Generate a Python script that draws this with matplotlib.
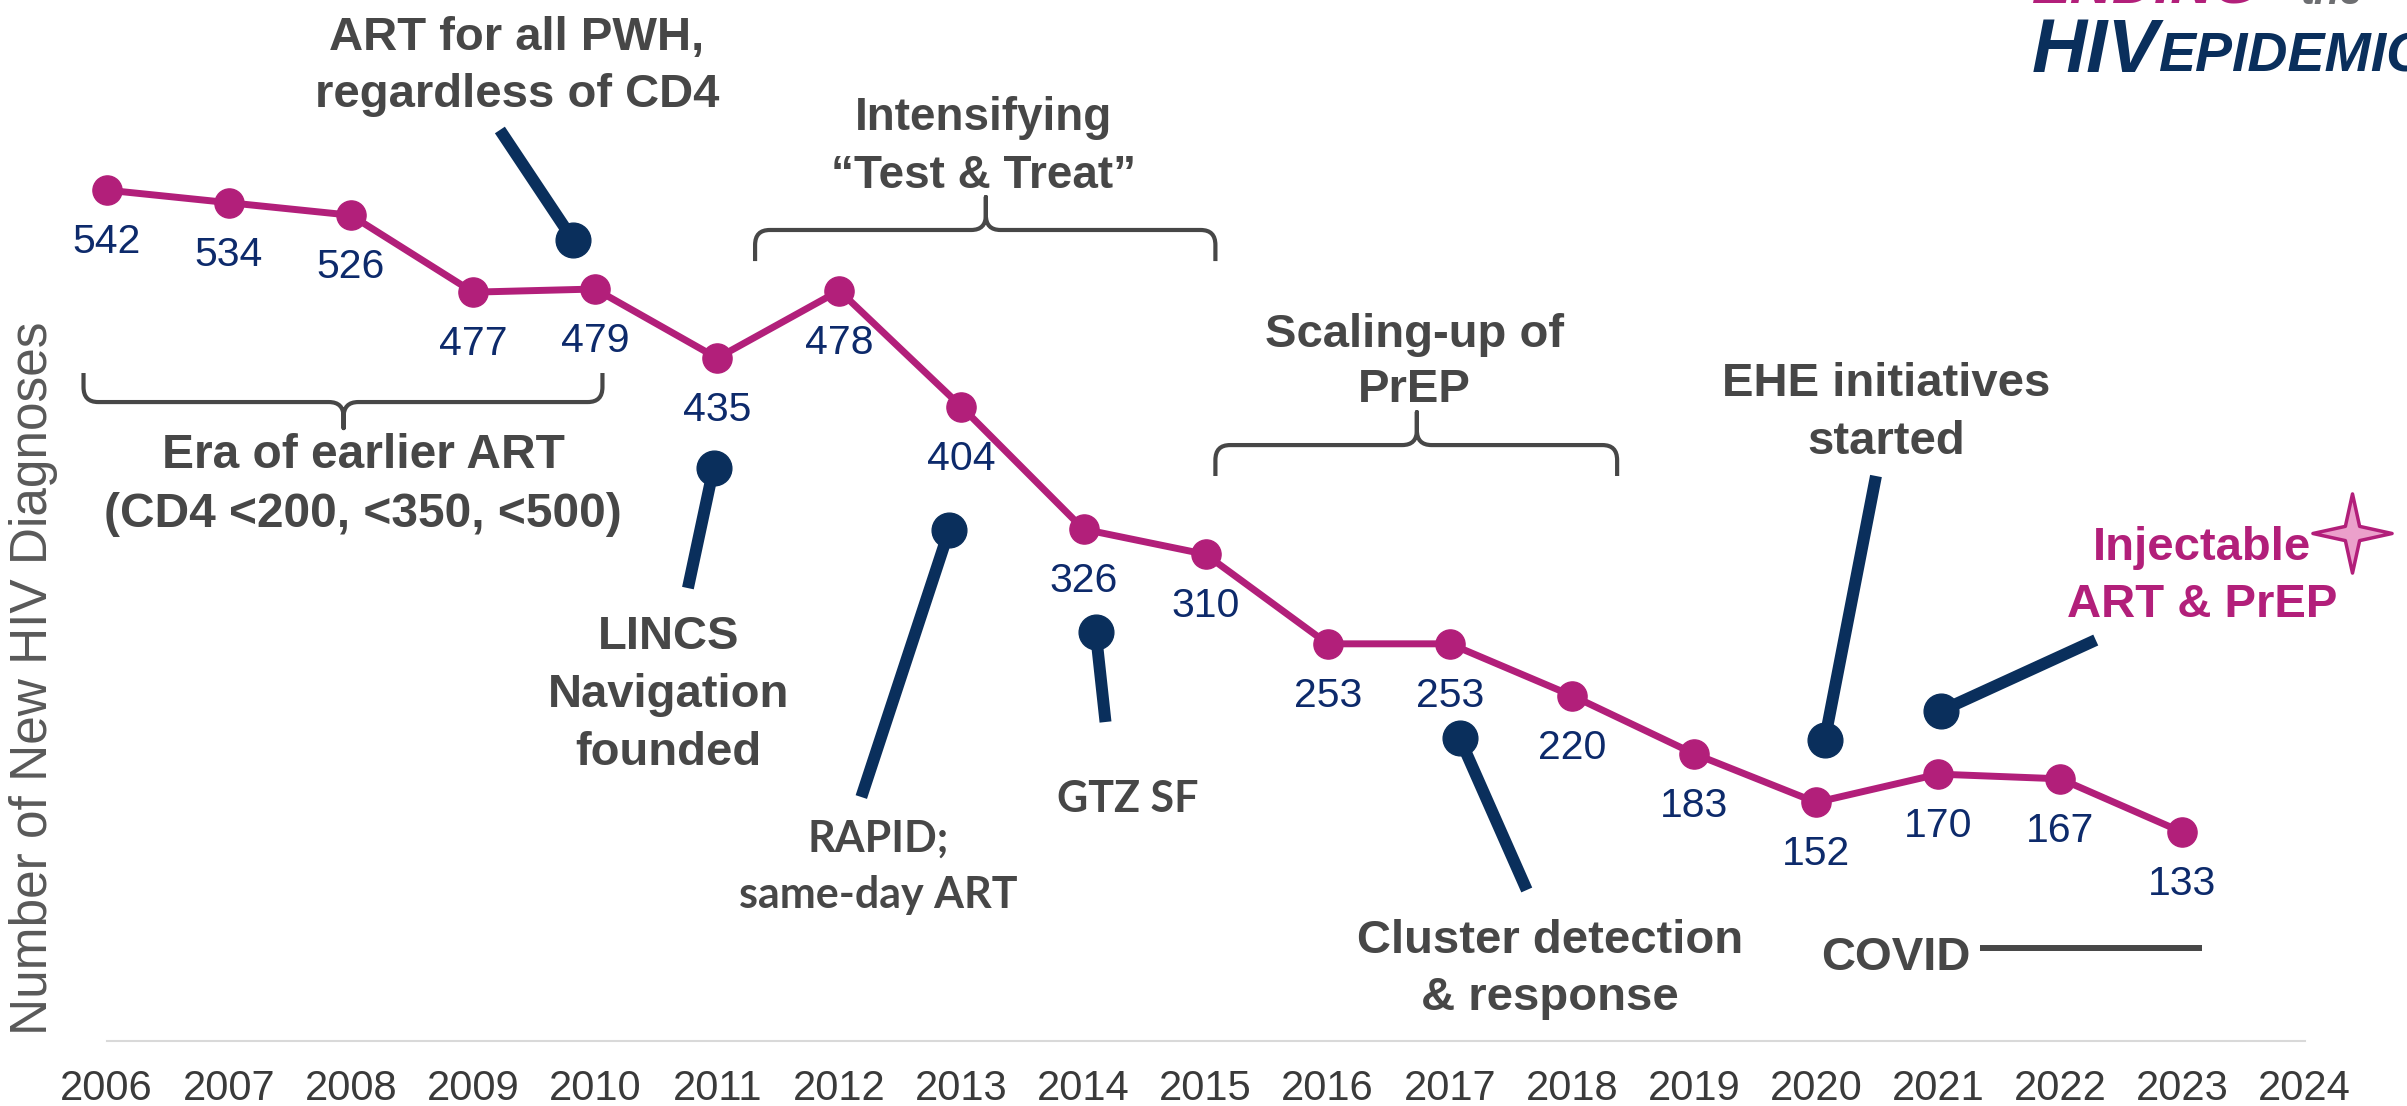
import matplotlib
matplotlib.use("Agg")
import matplotlib.pyplot as plt
from matplotlib.path import Path
from matplotlib.patches import PathPatch
from matplotlib import font_manager as fm

# ---------------- data ----------------
years = list(range(2006, 2024))
diagnoses = [542, 534, 526, 477, 479, 435, 478, 404, 326, 310,
             253, 253, 220, 183, 152, 170, 167, 133]
tick_years = list(range(2006, 2025))
y_label = "Number of New HIV Diagnoses"

# callout texts: lines, x centre, baselines (data units)
callout_lines = [
    (["ART for all PWH,", "regardless of CD4"], 2009.36, [631.0, 595.0]),
    (["LINCS", "Navigation", "founded"], 2010.6, [249.5, 212.5, 175.5]),
    (["Intensifying", "\u201cTest & Treat\u201d"], 2013.18, [580.3, 543.3]),
    (["Scaling-up of", "PrEP"], 2016.71, [442.0, 407.0]),
    (["Cluster detection", "& response"], 2017.82, [56.0, 20.0]),
    (["EHE initiatives", "started"], 2020.57, [410.8, 374.0]),
    (["COVID"], 2020.65, [45.2]),
]
era_lines = (["Era of earlier ART", "(CD4 <200, <350, <500)"], 2008.10, [365.0, 327.4])
inject_lines = (["Injectable", "ART & PrEP"], 2023.16, [306.4, 270.1])
calibri_lines = [
    (["RAPID;", "same-day ART"], 2012.32, [120.4, 84.7]),
    (["GTZ SF"], 2014.36, [145.9]),
]

# connectors: dot (x, y) and far end (x, y)
connectors = [
    ((2009.82, 510.2), (2009.22, 580.3)),
    ((2010.97, 365.0), (2010.76, 288.5)),
    ((2012.90, 325.5), (2012.18, 155.4)),
    ((2014.10, 260.5), (2014.18, 203.2)),
    ((2017.08, 193.0), (2017.63, 96.2)),
    ((2020.07, 191.7), (2020.49, 359.9)),
    ((2021.02, 210.2), (2022.29, 255.4)),
]

# braces: x0, x1, bar y, end y, mid x, tip y
braces = [
    (2005.81, 2010.06, 407.0, 425.5, 2007.94, 390.4),
    (2011.31, 2015.08, 516.6, 496.8, 2013.20, 537.6),
    (2015.08, 2018.37, 379.6, 359.9, 2016.73, 400.6),
]
covid_line = ((2021.34, 2023.16), 59.2)
star_pos = (2024.39, 323.5)

# ---------------- style ----------------
MAGENTA = "#B21F7A"
NAVY_TXT = "#0D2A6B"
NAVY = "#0A2F5C"
GRAY = "#474747"

names = {f.name for f in fm.fontManager.ttflist}
SANS = "Liberation Sans" if "Liberation Sans" in names else "DejaVu Sans"
NARROW = "Liberation Sans Narrow" if "Liberation Sans Narrow" in names else SANS
CALI = "Lato" if "Lato" in names else SANS

fig = plt.figure(figsize=(24.07, 11.06), dpi=100)
ax = fig.add_axes([0, 0, 1, 1])
ax.set_xlim(2005.126, 2024.839)
ax.set_ylim(-41.4, 663.1)

for s in ["top", "left", "right"]:
    ax.spines[s].set_visible(False)
ax.spines["bottom"].set_position(("data", 0))
ax.spines["bottom"].set_bounds(2006, 2024)
ax.spines["bottom"].set_color("#D9D9D9")
ax.spines["bottom"].set_linewidth(1.5)
ax.set_yticks([])
ax.set_xticks(tick_years)
ax.set_xticklabels([str(y) for y in tick_years], fontsize=30, color="#3A3A3A",
                   family=SANS)
ax.tick_params(axis="x", length=0, pad=20)

# y label
ax.text(2005.40, 231.0, y_label, rotation=90, ha="center", va="center",
        fontsize=37, color="#595959", family=NARROW)

# connectors (under everything)
for (dx, dy), (ex, ey) in connectors:
    ax.plot([dx, ex], [dy, ey], color=NAVY, lw=8.6, solid_capstyle="butt", zorder=2)
    ax.plot([dx], [dy], "o", color=NAVY, ms=25, zorder=2)

# main series
ax.plot(years, diagnoses, color=MAGENTA, lw=5, marker="o", ms=21, zorder=3)
for x, v in zip(years, diagnoses):
    ax.annotate(str(v), (x, v), xytext=(0, -37.5), textcoords="offset points",
                ha="center", va="center", fontsize=29.5, color=NAVY_TXT, family=SANS)

# braces
rx, ry = 0.12, 9.5
for x0, x1, yb, ye, xm, yt in braces:
    d = 1 if ye > yb else -1
    verts = [(x0, ye), (x0, yb + d * ry), (x0, yb), (x0 + rx, yb),
             (xm - rx, yb), (xm, yb), (xm, yb - d * ry), (xm, yt),
             (xm, yb - d * ry), (xm, yb), (xm + rx, yb),
             (x1 - rx, yb), (x1, yb), (x1, yb + d * ry), (x1, ye)]
    codes = [Path.MOVETO, Path.LINETO, Path.CURVE3, Path.CURVE3,
             Path.LINETO, Path.CURVE3, Path.CURVE3, Path.LINETO,
             Path.LINETO, Path.CURVE3, Path.CURVE3,
             Path.LINETO, Path.CURVE3, Path.CURVE3, Path.LINETO]
    ax.add_patch(PathPatch(Path(verts, codes), fill=False, ec=GRAY, lw=3,
                           capstyle="butt", joinstyle="round", zorder=2))

# callout texts
def put_lines(spec, **kw):
    lines, x, bases = spec
    for t, b in zip(lines, bases):
        ax.text(x, b, t, ha="center", va="baseline", **kw)

for spec in callout_lines:
    size = 33 if spec[0][0] == "Intensifying" else 34
    put_lines(spec, fontsize=size, fontweight="bold", color=GRAY, family=SANS)
put_lines(era_lines, fontsize=34.5, fontweight="bold", color=GRAY, family=NARROW)
put_lines(inject_lines, fontsize=34, fontweight="bold", color=MAGENTA, family=SANS)
for spec in calibri_lines:
    put_lines(spec, fontsize=31, fontweight="bold", color=GRAY, family=CALI)

# COVID line
(cx0, cx1), cy = covid_line
ax.plot([cx0, cx1], [cy, cy], color=GRAY, lw=4.3, solid_capstyle="butt")

# star
star = Path([(0, 1), (0.18, 0.18), (1, 0), (0.18, -0.18), (0, -1),
             (-0.18, -0.18), (-1, 0), (-0.18, 0.18), (0, 1)],
            [Path.MOVETO] + [Path.LINETO] * 7 + [Path.CLOSEPOLY])
ax.plot([star_pos[0]], [star_pos[1]], marker=star, ms=57, mfc="#EBA0CB",
        mec=MAGENTA, mew=2.5, zorder=4)

# logo (top right)
fig.text(2032 / 2407, 1 - 72 / 1106, "HIV", fontsize=55, fontweight="bold",
         fontstyle="italic", color=NAVY, family=NARROW, ha="left", va="baseline")
fig.text(2158 / 2407, 1 - 72 / 1106, "EPIDEMIC", fontsize=40, fontweight="bold",
         fontstyle="italic", color=NAVY, family=NARROW, ha="left", va="baseline")
fig.text(2032 / 2407, 1 - 4 / 1106, "ENDING", fontsize=42, fontweight="bold",
         fontstyle="italic", color=MAGENTA, family=NARROW, ha="left", va="baseline")
fig.text(2300 / 2407, 1 - 4 / 1106, "the", fontsize=30, fontweight="bold",
         fontstyle="italic", color="#6D6E71", family=NARROW, ha="left", va="baseline")

fig.savefig("out.png", dpi=100)
